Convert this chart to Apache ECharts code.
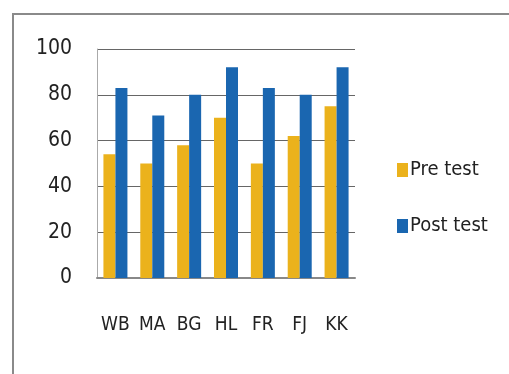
<!DOCTYPE html>
<html>
<head>
<meta charset="utf-8">
<script src="https://cdn.jsdelivr.net/npm/echarts@6/dist/echarts.min.js"></script>
<style>
  html, body { margin: 0; padding: 0; background: #fff; }
  #chart { width: 509px; height: 374px; }
</style>
</head>
<body>
<div id="chart"></div>
<script>
var categories = ['WB', 'MA', 'BG', 'HL', 'FR', 'FJ', 'KK'];
var preTest = [54, 50, 58, 70, 50, 62, 75];
var postTest = [83, 71, 80, 92, 83, 80, 92];
var yTicks = [0, 20, 40, 60, 80, 100];

var font = '"DejaVu Sans Condensed", "Liberation Sans Narrow", sans-serif';

var chart = echarts.init(document.getElementById('chart'));
chart.setOption({
    animation: false,
    backgroundColor: '#fff',
    graphic: [{
        type: 'rect',
        shape: { x: 13, y: 14, width: 600, height: 420 },
        style: { fill: 'none', stroke: '#8a8a8a', lineWidth: 2 }
    }],
    grid: { left: 97, right: 154, top: 49, bottom: 96 },
    legend: {
        orient: 'vertical',
        left: 392,
        top: 155,
        icon: 'rect',
        itemWidth: 11,
        itemHeight: 14,
        itemGap: 36,
        textStyle: { fontFamily: font, fontSize: 20, color: '#222', padding: [0, 0, 0, -3] },
        data: ['Pre test', 'Post test']
    },
    xAxis: {
        type: 'category',
        data: categories,
        axisLine: { lineStyle: { color: '#888', width: 2 } },
        axisTick: { show: false },
        axisLabel: {
            interval: 0, hideOverlap: false,
            fontFamily: font, fontSize: 19, color: '#222', margin: 38
        }
    },
    yAxis: {
        type: 'value',
        min: 0,
        max: 100,
        interval: 20,
        axisLine: { show: true, lineStyle: { color: '#aaa', width: 1 } },
        axisTick: { show: false },
        splitLine: { lineStyle: { color: '#666', width: 1 } },
        axisLabel: {
            fontFamily: font, fontSize: 21, color: '#222', margin: 25,
            formatter: function (v) { return yTicks.indexOf(v) >= 0 ? v : ''; }
        }
    },
    series: [{
        name: 'Pre test',
        type: 'bar',
        data: preTest,
        barWidth: 12,
        barGap: '0%',
        itemStyle: { color: '#EBB21C' }
    }, {
        name: 'Post test',
        type: 'bar',
        data: postTest,
        barWidth: 12,
        itemStyle: { color: '#1A66B0' }
    }]
});
</script>
</body>
</html>
